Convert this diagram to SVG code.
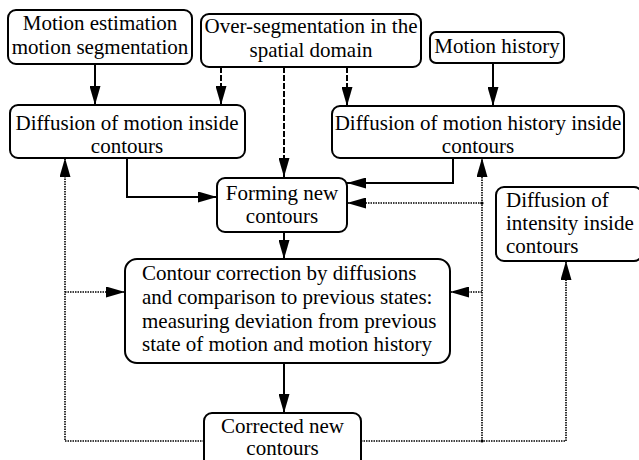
<svg xmlns="http://www.w3.org/2000/svg" width="639" height="460" viewBox="0 0 639 460">
<defs>
<marker id="ah" markerWidth="19" markerHeight="11" refX="19" refY="5.5" orient="auto" markerUnits="userSpaceOnUse">
<path d="M0,0 L19,5.5 L0,11 Z" fill="#000"/>
</marker>
</defs>
<style>
.box{fill:#fff;stroke:#000;stroke-width:2}
.t{font-family:"Liberation Serif","Times New Roman",serif;font-size:21px;fill:#000}
.c{text-anchor:middle}
.solid{fill:none;stroke:#000;stroke-width:2}
.dash{fill:none;stroke:#000;stroke-width:2;stroke-dasharray:6,2}
.dot{fill:none;stroke:#000;stroke-width:1.6;stroke-dasharray:1.5,1}
</style>
<rect width="639" height="460" fill="#fff"/>
<g id="connectors">
<path class="solid" d="M95,64 L95,105" marker-end="url(#ah)"/>
<path class="dash" d="M221,67 L221,105" marker-end="url(#ah)"/>
<path class="dash" d="M284,67 L284,177" marker-end="url(#ah)"/>
<path class="dash" d="M347,67 L347,106" marker-end="url(#ah)"/>
<path class="solid" d="M493,63 L493,106" marker-end="url(#ah)"/>
<path class="solid" d="M127,158 L127,197 L217,197" marker-end="url(#ah)"/>
<path class="solid" d="M453,158 L453,183 L347,183" marker-end="url(#ah)"/>
<path class="solid" d="M284,232 L284,259" marker-end="url(#ah)"/>
<path class="solid" d="M284,363 L284,413" marker-end="url(#ah)"/>
<path class="dot" d="M482,441 L482,158" marker-end="url(#ah)"/>
<path class="dot" d="M482,203 L347,203" marker-end="url(#ah)"/>
<path class="dot" d="M482,292 L450,292" marker-end="url(#ah)"/>
<path class="dot" d="M566,441 L566,261" marker-end="url(#ah)"/>
<path class="dot" d="M361,441 L566,441"/>
<path class="dot" d="M204,441 L65,441 L65,158" marker-end="url(#ah)"/>
<path class="dot" d="M65,292 L125,292" marker-end="url(#ah)"/>
<circle cx="482" cy="203" r="1.6" fill="#000"/>
<circle cx="482" cy="441" r="1.6" fill="#000"/>
</g>
<g id="n1"><rect class="box" x="8" y="10" width="184" height="54" rx="8"/>
<text class="t c" x="100" y="30">Motion estimation</text><text class="t c" x="100" y="54">motion segmentation</text></g>
<g id="n2"><rect class="box" x="201" y="14" width="220" height="53" rx="8"/>
<text class="t c" x="311" y="33">Over-segmentation in the</text><text class="t c" x="311" y="57">spatial domain</text></g>
<g id="n3"><rect class="box" x="430" y="32" width="134" height="31" rx="6"/>
<text class="t c" x="497" y="53">Motion history</text></g>
<g id="n4"><rect class="box" x="10" y="105" width="235" height="53" rx="8"/>
<text class="t c" x="127" y="130">Diffusion of motion inside</text><text class="t c" x="127" y="153">contours</text></g>
<g id="n5"><rect class="box" x="332" y="106" width="292" height="52" rx="8"/>
<text class="t c" x="478" y="130">Diffusion of motion history inside</text><text class="t c" x="478" y="153">contours</text></g>
<g id="n6"><rect class="box" x="217" y="178" width="130" height="54" rx="8"/>
<text class="t c" x="282" y="200">Forming new</text><text class="t c" x="282" y="223">contours</text></g>
<g id="n7"><rect class="box" x="496" y="187" width="146" height="74" rx="8"/>
<text class="t" x="506" y="207">Diffusion of</text><text class="t" x="506" y="230">intensity inside</text><text class="t" x="506" y="253">contours</text></g>
<g id="n8"><rect class="box" x="125" y="259" width="325" height="104" rx="12"/>
<text class="t" x="142" y="280">Contour correction by diffusions</text><text class="t" x="142" y="304">and comparison to previous states:</text><text class="t" x="142" y="328">measuring deviation from previous</text><text class="t" x="142" y="351">state of motion and motion history</text></g>
<g id="n9"><rect class="box" x="204" y="413" width="157" height="60" rx="8"/>
<text class="t c" x="282.5" y="433">Corrected new</text><text class="t c" x="282.5" y="455">contours</text></g>
</svg>
